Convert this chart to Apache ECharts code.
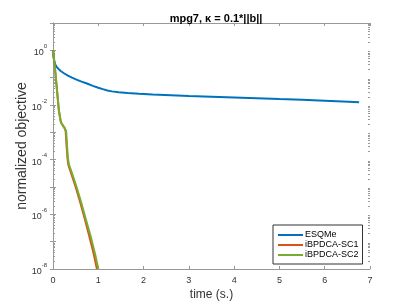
<!DOCTYPE html>
<html>
<head>
<meta charset="utf-8">
<script src="https://cdn.jsdelivr.net/npm/echarts@6/dist/echarts.min.js"></script>
<style>html,body{margin:0;padding:0;background:#fff}#c{width:409px;height:306px}</style>
</head>
<body>
<div id="c"></div>
<script>
const seriesNames = ['ESQMe', 'iBPDCA-SC1', 'iBPDCA-SC2'];
const esqmeT = [0, 0.01, 0.025, 0.05, 0.08, 0.12, 0.17, 0.25, 0.33, 0.42, 0.52, 0.63, 0.75, 0.88, 1.0, 1.1, 1.2, 1.3, 1.45, 1.65, 1.9, 2.2, 2.6, 3.0, 3.5, 4.0, 4.5, 5.0, 5.5, 6.0, 6.4, 6.76];
const esqmeV = [1, 0.6, 0.42, 0.30, 0.25, 0.21, 0.175, 0.142, 0.118, 0.100, 0.085, 0.072, 0.061, 0.050, 0.043, 0.038, 0.034, 0.0315, 0.0295, 0.0277, 0.0258, 0.0240, 0.0225, 0.0212, 0.0200, 0.0189, 0.0178, 0.0166, 0.0155, 0.0144, 0.0135, 0.0127];
const sc1T = [0, 0.04, 0.09, 0.13, 0.17, 0.19, 0.22, 0.26, 0.28, 0.30, 0.32, 0.34, 0.40, 0.50, 0.60, 0.70, 0.80, 0.90, 0.97];
const sc1V = [1, 0.25, 0.032, 6.3e-3, 2.5e-3, 2.1e-3, 1.8e-3, 1.4e-3, 1.1e-3, 3.2e-4, 1.1e-4, 6.3e-5, 3.2e-5, 1e-5, 2.8e-6, 7e-7, 1.6e-7, 3.5e-8, 1e-8];
const sc2T = [0, 0.04, 0.09, 0.13, 0.17, 0.19, 0.22, 0.26, 0.29, 0.31, 0.33, 0.355, 0.42, 0.52, 0.62, 0.72, 0.83, 0.93, 1.0];
const sc2V = [1, 0.25, 0.032, 6.3e-3, 2.5e-3, 2.1e-3, 1.8e-3, 1.4e-3, 1.1e-3, 3.2e-4, 1.1e-4, 6.3e-5, 3.2e-5, 1e-5, 2.8e-6, 7e-7, 1.6e-7, 3.5e-8, 1e-8];
const xTicks = [0, 1, 2, 3, 4, 5, 6, 7];
const yMajor = [1e-8, 1e-7, 1e-6, 1e-5, 1e-4, 1e-3, 1e-2, 1e-1, 1, 10];
const yLabelled = [1e-8, 1e-6, 1e-4, 1e-2, 1];
const colors = ['#0072BD', '#D95319', '#77AC30'];

const yMinor = [];
yMajor.slice(0, -1).forEach(d => { for (let k = 2; k <= 9; k++) yMinor.push(d * k); });

const font = '"Liberation Sans", Arial, Helvetica, sans-serif';
const axisCol = '#999';
const txtCol = '#333';
const zip = (t, v) => t.map((x, i) => [x, v[i]]);

function supLabel(v) {
  const e = Math.round(Math.log10(v));
  return '{b|10}{s|' + e + '}';
}

const yBase = {
  type: 'log', logBase: 10, min: 1e-8, max: 10,
  splitLine: { show: false },
  axisLine: { show: true, lineStyle: { color: axisCol, width: 1 } }
};
const xBase = {
  type: 'value', min: 0, max: 7, interval: 1,
  splitLine: { show: false },
  axisLine: { show: true, lineStyle: { color: axisCol, width: 1 } }
};

const chart = echarts.init(document.getElementById('c'), null, { renderer: 'canvas' });
chart.setOption({
  backgroundColor: '#fff',
  animation: false,
  title: {
    text: 'mpg7, κ = 0.1*||b||', left: 211, top: 8, textAlign: 'center',
    textStyle: { fontFamily: font, fontSize: 11, fontWeight: 'bold', color: '#000' }
  },
  grid: { left: 53, right: 39, top: 23, bottom: 33 },
  legend: {
    orient: 'vertical', left: 273, top: 225,
    padding: [5, 4, 4, 5],
    icon: 'rect',
    itemWidth: 25, itemHeight: 2, itemGap: 0,
    backgroundColor: '#fff', borderColor: '#333', borderWidth: 1,
    textStyle: { fontFamily: font, fontSize: 9, lineHeight: 10, color: '#000', padding: [0, 0, 0, -3] },
    data: seriesNames
  },
  xAxis: [
    Object.assign({}, xBase, {
      position: 'bottom',
      name: 'time (s.)', nameLocation: 'middle', nameGap: 20, nameMoveOverlap: false,
      nameTextStyle: { fontFamily: font, fontSize: 12, color: txtCol },
      axisTick: { show: true, inside: true, length: 3, lineStyle: { color: axisCol } },
      axisLabel: { margin: 7, fontFamily: font, fontSize: 9, color: txtCol }
    }),
    Object.assign({}, xBase, {
      position: 'top',
      axisTick: { show: true, inside: true, length: 3, lineStyle: { color: axisCol } },
      axisLabel: { show: false }
    })
  ],
  yAxis: [
    Object.assign({}, yBase, {
      position: 'left',
      name: 'normalized objective', nameLocation: 'middle', nameGap: 24, nameMoveOverlap: false,
      nameTextStyle: { fontFamily: font, fontSize: 14, color: txtCol },
      axisTick: { show: true, inside: true, length: 3, customValues: yMajor, lineStyle: { color: axisCol } },
      axisLabel: {
        margin: 6, customValues: yLabelled, formatter: supLabel,
        rich: {
          b: { fontFamily: font, fontSize: 9, color: txtCol, verticalAlign: 'bottom', lineHeight: 14 },
          s: { fontFamily: font, fontSize: 6, color: txtCol, verticalAlign: 'top', lineHeight: 14 }
        }
      }
    }),
    Object.assign({}, yBase, {
      position: 'right',
      axisTick: { show: true, inside: true, length: 3, customValues: yMajor, lineStyle: { color: axisCol } },
      axisLabel: { show: false }
    }),
    Object.assign({}, yBase, {
      position: 'left',
      axisLine: { show: false },
      axisTick: { show: true, inside: true, length: 2, customValues: yMinor, lineStyle: { color: axisCol } },
      axisLabel: { show: false }
    }),
    Object.assign({}, yBase, {
      position: 'right',
      axisLine: { show: false },
      axisTick: { show: true, inside: true, length: 2, customValues: yMinor, lineStyle: { color: axisCol } },
      axisLabel: { show: false }
    })
  ],
  series: [
    { name: seriesNames[0], type: 'line', data: zip(esqmeT, esqmeV), showSymbol: false, symbol: 'none', lineStyle: { width: 2, color: colors[0] }, itemStyle: { color: colors[0] }, clip: true },
    { name: seriesNames[1], type: 'line', data: zip(sc1T, sc1V), showSymbol: false, symbol: 'none', lineStyle: { width: 2, color: colors[1] }, itemStyle: { color: colors[1] }, clip: true },
    { name: seriesNames[2], type: 'line', data: zip(sc2T, sc2V), showSymbol: false, symbol: 'none', lineStyle: { width: 2, color: colors[2] }, itemStyle: { color: colors[2] }, clip: true }
  ]
});
</script>
</body>
</html>
